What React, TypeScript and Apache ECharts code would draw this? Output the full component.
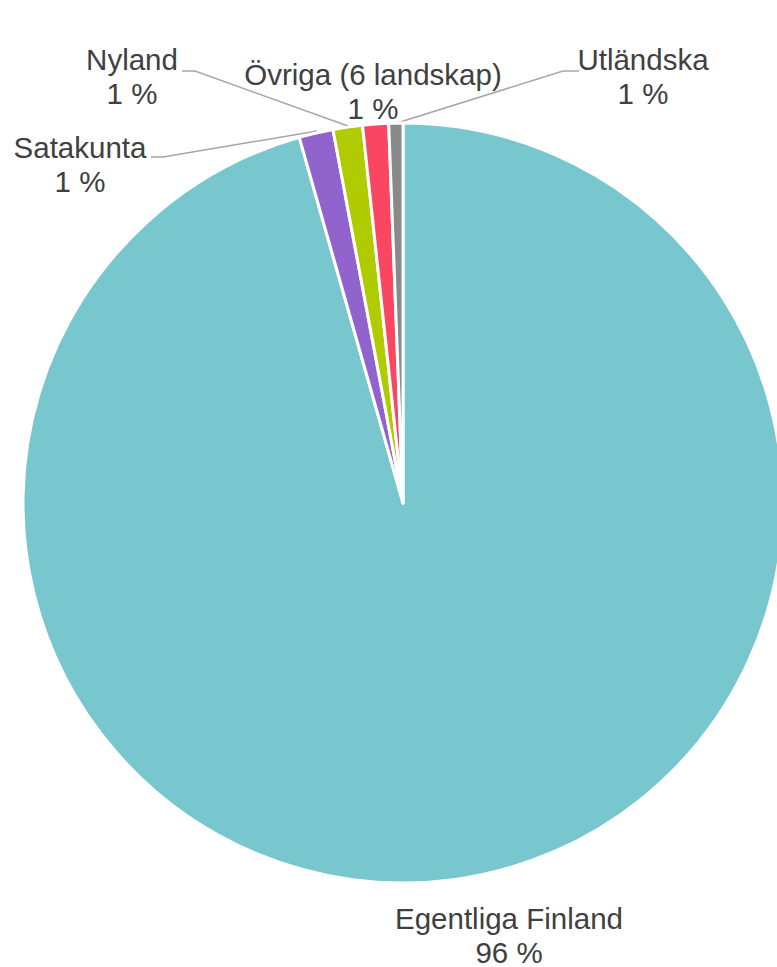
import React, { useEffect, useRef } from "react";
import * as echarts from "echarts";

const categories = ["Egentliga Finland", "Satakunta", "Nyland", "Övriga (6 landskap)", "Utländska"];
const values = [95.6, 1.45, 1.25, 1.1, 0.6];
const colors = ["#78C7CF", "#9063CD", "#B0CB00", "#FA4660", "#898989"];

const labelPos = [
  { x: 509, y: 935, line: null },
  { x: 80, y: 164, line: [[317, 131], [163, 157], [151, 157]] },
  { x: 132, y: 76, line: [[348, 126], [195, 71], [182, 71]] },
  { x: 373, y: 91, line: null },
  { x: 643, y: 76, line: [[397, 123], [563, 71], [579, 71]] },
];

export default function App() {
  const ref = useRef<HTMLDivElement>(null);
  useEffect(() => {
    document.body.style.margin = "0";
    const chart = echarts.init(ref.current!, null, { renderer: "svg" });
    const total = values.reduce((a, b) => a + b, 0);
    chart.setOption({
      animation: false,
      backgroundColor: "#ffffff",
      series: [
        {
          type: "pie",
          center: [403, 503],
          radius: 380,
          startAngle: 90,
          clockwise: true,
          data: categories.map((c, i) => ({
            name: c,
            value: values[i],
            itemStyle: { color: colors[i] },
            labelLine: { show: labelPos[i].line !== null },
          })),
          itemStyle: { borderColor: "#ffffff", borderWidth: 3 },
          label: {
            show: true,
            formatter: (p: any) => `${p.name}\n${Math.round((p.value / total) * 100)} %`,
            fontFamily: "Arial",
            fontSize: 29.5,
            lineHeight: 34,
            color: "#404040",
            align: "center",
            overflow: "none",
          },
          labelLine: { show: true, lineStyle: { color: "#A6A6A6", width: 1.5 } },
          labelLayout: (params: any) => {
            const lp = labelPos[params.dataIndex];
            const out: any = { x: lp.x, y: lp.y, align: "center", verticalAlign: "middle", width: 400 };
            if (lp.line) out.labelLinePoints = lp.line;
            return out;
          },
        },
      ],
    });
    return () => chart.dispose();
  }, []);
  return <div ref={ref} style={{ width: 777, height: 967 }} />;
}
